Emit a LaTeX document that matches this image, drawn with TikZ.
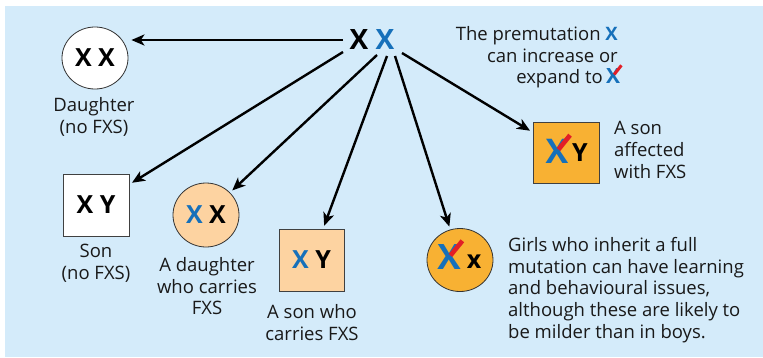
\documentclass[tikz,border=0pt]{standalone}
\usepackage{fontspec}
\setmainfont{Open Sans}
\usetikzlibrary{shapes.geometric,arrows.meta,calc}
\definecolor{bgblue}{RGB}{212,235,250}
\definecolor{xblue}{RGB}{22,112,186}
\definecolor{mred}{RGB}{226,30,38}
\definecolor{orng}{RGB}{248,177,51}
\definecolor{lorng}{RGB}{253,211,161}
\tikzset{
  lbl/.style={inner sep=0pt, font=\fontsize{18.5}{21.8}\selectfont, text=black!90},
  chrom/.style={inner sep=0pt, font=\bfseries\fontsize{25}{25}\selectfont},
  femnode/.style={ellipse, draw=black!80, line width=0.8pt, minimum width=66pt, minimum height=62pt, inner sep=0pt, font=\bfseries\fontsize{25}{25}\selectfont},
  malenode/.style={rectangle, draw=black!75, line width=0.8pt, minimum width=66pt, minimum height=62pt, inner sep=0pt, font=\bfseries\fontsize{25}{25}\selectfont},
  arr/.style={line width=2.4pt, -{Stealth[length=13pt,width=11pt,inset=3.5pt]}, shorten >=3pt},
  redstroke/.style={mred, line width=4.6pt}
}
\begin{document}
\begin{tikzpicture}[x=1pt,y=-1pt]
\useasboundingbox (0,0) rectangle (763,357);
\fill[bgblue] (5,6) rectangle (763,357);

% parent
\node[inner sep=0pt, font=\bfseries\fontsize{28}{28}\selectfont] (par) at (372,40) {X \textcolor{xblue}{X}};
\coordinate (s1) at (343,40);
\coordinate (s2) at (343,52);
\coordinate (s3) at (377,55);
\coordinate (s4) at (387,56);
\coordinate (s5) at (395,56);
\coordinate (s6) at (402,53);

% offspring
\node[femnode, fill=white] (n1) at (95,58) {X X};
\node[lbl, anchor=north, align=center] (l1) at (94,97) {Daughter\\(no FXS)};

\node[malenode, fill=white] (n2) at (96,205) {X Y};
\node[lbl, anchor=north, align=center] (l2) at (96,244) {Son\\(no FXS)};

\node[femnode, fill=lorng, minimum height=64pt] (n3) at (206,215) {\textcolor{xblue}{X} X};
\node[lbl, anchor=north, align=center] (l3) at (207,257) {A daughter\\who carries\\FXS};

\node[malenode, fill=lorng, minimum width=65pt] (n4) at (311.5,260) {\textcolor{xblue}{X} Y};
\node[lbl, anchor=north, align=center] (l4) at (312,304) {A son who\\carries FXS};

\node[malenode, fill=orng, minimum height=61pt] (n5) at (566,152.5) {};
\node[inner sep=0pt, font=\bfseries\fontsize{34}{34}\selectfont, text=xblue] (x5) at (557,151) {X};
\draw[redstroke] ($(x5.center)+(1.5,-1.5)$) -- ($(x5.north east)+(1.5,-3.5)$);
\node[chrom] (y5) at (580,153) {Y};
\node[lbl, anchor=north west, align=left] (l5) at (614,121) {A son\\affected\\with FXS};

\node[femnode, fill=orng, minimum height=63pt] (n6) at (460,260) {};
\node[inner sep=0pt, font=\bfseries\fontsize{35}{35}\selectfont, text=xblue] (x6) at (449,257) {X};
\draw[redstroke] ($(x6.center)+(1.5,-1.5)$) -- ($(x6.north east)+(1.5,-3.5)$);
\node[chrom] (y6) at (474,262) {x};
\node[lbl, anchor=north west, align=left] (l6) at (508,237) {Girls who inherit a full\\mutation can have learning\\and behavioural issues,\\although these are likely to\\be milder than in boys.};

% note
\node[lbl, anchor=base east] (t1) at (618,40) {The premutation \textbf{\textcolor{xblue}{X}}};
\node[lbl, anchor=base east] (t2) at (618,62) {can increase or};
\node[lbl, anchor=base east] (t3) at (603,83) {expand to};
\node[inner sep=0pt, anchor=base west, font=\bfseries\fontsize{21}{21}\selectfont, text=xblue] (tx) at ($(t3.base east)+(3,0)$) {X};
\draw[mred, line width=3pt] ($(tx.center)+(1,-1)$) -- ($(tx.north east)+(1,-2.5)$);

% arrows
\draw[arr] (s1) -- (s1 -| n1.east);
\draw[arr] (s2) -- (n2);
\draw[arr] (s3) -- (n3);
\draw[arr] (s4) -- (n4);
\draw[arr] (s5) -- (n6);
\draw[arr] (s6) -- (n5);
\end{tikzpicture}
\end{document}
